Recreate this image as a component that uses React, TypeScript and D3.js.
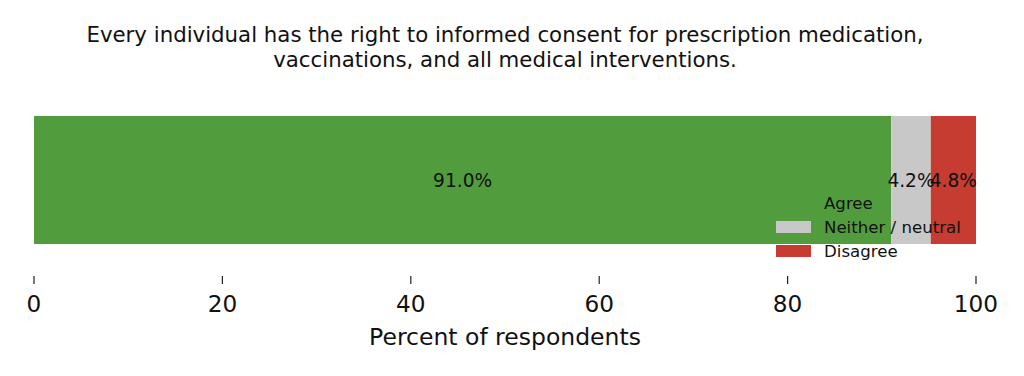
import React from "react";
import * as d3 from "d3";

const categories = ["Agree", "Neither / neutral", "Disagree"];
const values = [91.0, 4.2, 4.8];
const colors = ["#519d3e", "#c8c8c8", "#c63c31"];
const xTicks = [0, 20, 40, 60, 80, 100];
const titleLines = [
  "Every individual has the right to informed consent for prescription medication,",
  "vaccinations, and all medical interventions.",
];
const xLabel = "Percent of respondents";

const W = 1024;
const H = 376;
const FONT = "DejaVu Sans, sans-serif";

export default function App() {
  const x = d3.scaleLinear().domain([0, 100]).range([34, 976]);
  const barTop = 116;
  const barBottom = 244;
  const barMid = (barTop + barBottom) / 2;

  let acc = 0;
  const segs = values.map((v, i) => {
    const s = { start: acc, end: acc + v, v, color: colors[i], name: categories[i] };
    acc += v;
    return s;
  });

  return (
    <svg
      width={W}
      height={H}
      style={{ position: "absolute", left: 0, top: 0, background: "#fff" }}
      fontFamily={FONT}
    >
      {titleLines.map((t, i) => (
        <text key={i} x={505} y={42 + i * 24.5} textAnchor="middle" fontSize={21.3} fill="#111">
          {t}
        </text>
      ))}
      {segs.map((s, i) => (
        <rect
          key={i}
          x={x(s.start)}
          y={barTop}
          width={x(s.end) - x(s.start)}
          height={barBottom - barTop}
          fill={s.color}
        />
      ))}
      {segs.map((s, i) => (
        <text
          key={"l" + i}
          x={(x(s.start) + x(s.end)) / 2}
          y={barMid}
          dy="0.35em"
          textAnchor="middle"
          fontSize={18.6}
          fill="#111"
        >
          {s.v.toFixed(1) + "%"}
        </text>
      ))}
      {xTicks.map((t) => (
        <g key={t}>
          <line x1={x(t)} x2={x(t)} y1={276} y2={284} stroke="#222" strokeWidth={1.2} />
          <text x={x(t)} y={312} textAnchor="middle" fontSize={23.2} fill="#111">
            {t}
          </text>
        </g>
      ))}
      <text x={505} y={345} textAnchor="middle" fontSize={23.5} fill="#111">
        {xLabel}
      </text>
      {categories.map((c, i) => (
        <g key={c}>
          <rect x={776} y={197 + i * 24} width={35} height={12} fill={colors[i]} />
          <text x={824} y={203 + i * 24} dy="0.35em" fontSize={16.6} fill="#111">
            {c}
          </text>
        </g>
      ))}
    </svg>
  );
}
